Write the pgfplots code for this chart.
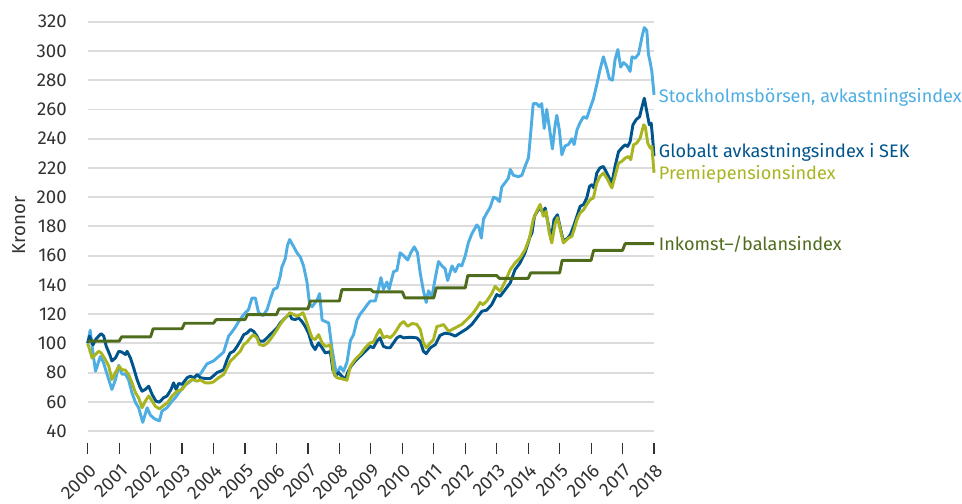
\documentclass[border=0pt]{standalone}
\usepackage{fontspec}
\setmainfont{Fira Sans}
\usepackage{pgfplots}
\usetikzlibrary{calc}
\pgfplotsset{compat=1.18}
\definecolor{cLight}{RGB}{78,173,226}
\definecolor{cDark}{RGB}{0,84,140}
\definecolor{cOlive}{RGB}{168,180,32}
\definecolor{cGreen}{RGB}{78,108,28}
\definecolor{cGrid}{RGB}{220,220,220}
\definecolor{cText}{RGB}{50,50,50}
\begin{document}
\fontsize{14}{16.8}\selectfont
\begin{tikzpicture}
\begin{axis}[
  name=ax,
  scale only axis,
  width=425pt, height=316pt,
  xmin=2000, xmax=2018, ymin=32, ymax=320,
  xtick={2000,2001,...,2018},
  ytick={40,60,...,320},
  xticklabel={\pgfmathprintnumber[precision=0,1000 sep={}]{\tick}},
  /pgf/number format/assume math mode=true,
  axis line style={draw=none},
  ymajorgrids, grid style={cGrid, line width=1.4pt},
  major tick length=0.1pt,
  xtick style={draw=none},
  ytick style={draw=none},
  xtick pos=bottom,
  ytick pos=left,
  tick label style={font=\fontsize{14}{16.8}\selectfont, text=cText, inner sep=0pt},
  yticklabel style={anchor=east, xshift=-15.5pt},
  xticklabel style={rotate=45, anchor=east, xshift=-10.3pt, yshift=-15.9pt},
  clip=false,
  every axis plot/.append style={line width=2.2pt, line join=round, mark=none},
]
\addplot[cLight] coordinates {
(2000.00,100) (2000.08,109) (2000.17,93) (2000.25,81) (2000.40,91) (2000.50,87) (2000.63,78) (2000.77,68.5) (2000.88,75) (2000.99,85) (2001.09,79) (2001.20,79) (2001.30,75) (2001.41,66) (2001.52,59.5) (2001.62,56) (2001.75,46) (2001.89,56) (2001.99,51) (2002.12,48.5) (2002.28,47) (2002.36,53.7) (2002.52,56) (2002.68,60.5) (2002.79,63) (2002.89,66) (2003.05,70.7) (2003.26,74) (2003.42,77) (2003.58,79) (2003.79,86) (2004.00,88) (2004.16,91) (2004.32,94) (2004.48,105) (2004.59,108) (2004.69,111) (2004.80,115) (2004.90,118) (2005.01,121) (2005.11,123) (2005.22,131) (2005.33,131) (2005.43,121) (2005.57,119) (2005.70,123) (2005.80,130) (2005.91,137) (2006.02,138) (2006.12,146) (2006.17,152) (2006.28,158) (2006.35,167) (2006.42,171) (2006.55,166) (2006.65,162) (2006.76,159) (2006.86,153) (2006.97,142) (2007.05,127) (2007.13,125) (2007.23,128) (2007.30,130) (2007.37,134) (2007.45,116) (2007.55,115) (2007.66,114) (2007.76,97) (2007.87,83) (2007.94,80) (2008.03,84) (2008.13,81) (2008.24,87) (2008.35,102) (2008.45,106) (2008.56,116) (2008.66,120) (2008.77,123) (2008.87,126) (2008.98,129) (2009.14,129) (2009.24,137) (2009.32,145) (2009.40,137) (2009.51,142) (2009.58,137) (2009.72,149) (2009.83,150) (2009.93,162) (2010.04,160) (2010.17,157) (2010.27,162) (2010.38,166) (2010.48,162) (2010.57,148) (2010.67,136) (2010.76,128) (2010.83,136) (2010.94,132) (2011.05,145) (2011.15,156) (2011.26,153) (2011.36,151) (2011.44,143) (2011.58,153) (2011.68,149) (2011.79,154) (2011.89,153) (2012.00,160) (2012.10,169) (2012.21,175) (2012.37,181) (2012.44,179) (2012.51,172) (2012.58,185) (2012.68,189) (2012.79,193) (2012.90,200) (2013.00,199) (2013.09,197) (2013.16,207) (2013.27,210) (2013.37,213) (2013.43,219) (2013.53,215) (2013.69,214) (2013.80,215) (2013.90,221) (2014.01,227) (2014.08,244) (2014.16,264) (2014.27,264) (2014.35,262) (2014.43,264) (2014.51,247) (2014.59,260) (2014.67,248) (2014.77,233) (2014.86,250) (2014.91,256) (2014.99,246) (2015.07,229) (2015.17,235) (2015.28,236) (2015.39,240) (2015.46,236) (2015.55,246) (2015.65,251) (2015.76,255) (2015.86,254) (2015.97,261) (2016.07,267) (2016.18,277) (2016.28,287) (2016.39,296) (2016.50,288) (2016.58,281) (2016.68,280) (2016.76,294) (2016.85,301) (2016.94,289) (2017.03,292) (2017.14,290) (2017.24,286) (2017.30,296) (2017.40,295) (2017.51,298) (2017.62,310) (2017.69,316) (2017.77,314) (2017.82,298) (2017.88,292) (2017.93,286) (2018.00,270)
};
\addplot[cDark] coordinates {
(2000.00,100) (2000.06,105) (2000.17,99) (2000.25,102.6) (2000.35,105) (2000.43,106.7) (2000.51,105) (2000.59,98) (2000.70,92.4) (2000.77,88) (2000.88,90) (2000.99,94.6) (2001.09,94) (2001.20,92.4) (2001.25,94.6) (2001.36,90) (2001.46,83.3) (2001.57,75.3) (2001.65,70.7) (2001.73,67.3) (2001.83,68.5) (2001.94,70.7) (2002.05,65) (2002.17,60.5) (2002.28,59.8) (2002.41,62.8) (2002.52,64) (2002.65,68.5) (2002.73,73) (2002.81,68.5) (2002.89,72.6) (2003.00,72) (2003.16,76.5) (2003.26,77.6) (2003.37,76.5) (2003.48,78.7) (2003.58,76.5) (2003.74,76) (2003.90,76) (2004.11,80) (2004.22,81) (2004.32,82) (2004.43,89) (2004.53,93.5) (2004.64,94.6) (2004.75,98) (2004.85,101.5) (2004.96,106) (2005.06,107) (2005.17,109.5) (2005.27,108.3) (2005.38,105) (2005.46,101.5) (2005.59,101.5) (2005.70,103.8) (2005.80,106) (2005.91,108.3) (2006.02,110.6) (2006.12,114) (2006.23,116.3) (2006.34,118.6) (2006.42,119.7) (2006.49,116.8) (2006.60,116.3) (2006.70,117.5) (2006.81,115) (2006.91,111.7) (2007.02,107) (2007.13,99) (2007.23,95.8) (2007.34,100.4) (2007.45,97) (2007.55,93.5) (2007.66,94) (2007.71,94.6) (2007.79,82) (2007.87,77.6) (2007.97,80) (2008.08,77.6) (2008.19,75.3) (2008.26,80) (2008.37,84.4) (2008.50,87.8) (2008.66,91.2) (2008.82,94.6) (2008.98,98) (2009.08,97) (2009.19,101.5) (2009.29,103.8) (2009.40,98) (2009.51,97) (2009.61,97) (2009.72,100.4) (2009.83,103.8) (2009.93,105) (2010.04,103.8) (2010.25,104.2) (2010.46,103.8) (2010.57,101.5) (2010.67,94.6) (2010.76,93) (2010.89,97) (2011.05,99.2) (2011.20,105.5) (2011.36,107) (2011.52,106.5) (2011.68,105) (2011.84,107.2) (2012.05,110) (2012.21,113) (2012.37,117.5) (2012.53,122) (2012.68,122.7) (2012.84,126.5) (2013.00,133.4) (2013.11,132.2) (2013.27,136.8) (2013.43,141.4) (2013.58,150.4) (2013.74,155) (2013.90,162) (2014.06,173) (2014.12,175.5) (2014.20,187) (2014.30,190.8) (2014.38,192.6) (2014.47,189.2) (2014.54,192.6) (2014.65,180) (2014.73,171) (2014.82,184.6) (2014.93,188) (2015.01,180) (2015.12,169.8) (2015.25,172) (2015.34,174.3) (2015.44,180) (2015.55,187) (2015.65,193.7) (2015.76,195) (2015.86,199.4) (2015.95,207.4) (2016.02,208.5) (2016.09,206.3) (2016.18,216.5) (2016.28,220) (2016.39,221) (2016.50,216.5) (2016.66,209.7) (2016.76,221) (2016.87,231) (2016.97,233.6) (2017.08,235.8) (2017.16,234.7) (2017.24,238) (2017.33,249.5) (2017.43,253) (2017.54,255) (2017.62,262) (2017.69,267.7) (2017.77,258.6) (2017.85,249.5) (2017.91,250.6) (2017.96,239) (2018.00,228)
};
\addplot[cOlive] coordinates {
(2000.00,100) (2000.06,95.8) (2000.14,90) (2000.25,92.4) (2000.35,94.6) (2000.43,93.5) (2000.56,89) (2000.67,84.4) (2000.77,75.3) (2000.88,80) (2000.99,84.4) (2001.09,82) (2001.20,81.7) (2001.30,78.7) (2001.41,73) (2001.52,66.2) (2001.62,62.8) (2001.73,56) (2001.83,60.5) (2001.94,64) (2002.05,60.5) (2002.15,57) (2002.28,55.3) (2002.41,57.6) (2002.54,59.4) (2002.68,64) (2002.84,67.3) (2003.00,68.5) (2003.16,73) (2003.32,75.3) (2003.48,74.2) (2003.58,75) (2003.74,73) (2003.90,73) (2004.00,73.7) (2004.16,76.5) (2004.32,78.7) (2004.43,83.3) (2004.53,87.8) (2004.64,90) (2004.75,92.4) (2004.85,94.6) (2004.96,99.2) (2005.06,100.8) (2005.17,103.8) (2005.27,106) (2005.38,103.8) (2005.46,99.2) (2005.59,98.5) (2005.70,100) (2005.80,102.6) (2005.91,106) (2006.02,109.5) (2006.12,113) (2006.23,116.3) (2006.34,118.6) (2006.42,121) (2006.55,119.7) (2006.65,118.6) (2006.76,119.7) (2006.84,121) (2006.91,117.5) (2007.02,110.6) (2007.13,103.8) (2007.23,102.6) (2007.34,106) (2007.45,100.4) (2007.55,98) (2007.66,98.5) (2007.71,99.2) (2007.82,80) (2007.92,76.5) (2008.08,75.8) (2008.24,74.8) (2008.35,84.4) (2008.50,89) (2008.66,92.4) (2008.82,97) (2008.98,100.4) (2009.08,100.8) (2009.19,106) (2009.29,109.5) (2009.40,103.8) (2009.51,105) (2009.61,103.8) (2009.72,106) (2009.83,109.5) (2009.93,113) (2010.04,115) (2010.17,111.7) (2010.31,113.6) (2010.46,113) (2010.57,109.5) (2010.67,100.4) (2010.76,97) (2010.89,100.4) (2010.99,102.6) (2011.10,111.7) (2011.20,112) (2011.31,112.9) (2011.47,108.3) (2011.68,110.6) (2011.89,113) (2012.05,116.3) (2012.21,119.7) (2012.37,124.3) (2012.47,128) (2012.56,126.5) (2012.68,128.8) (2012.84,134) (2012.95,139) (2013.11,135.6) (2013.27,142.5) (2013.43,150.4) (2013.58,155) (2013.74,158.4) (2013.90,164) (2014.04,172) (2014.16,184.6) (2014.27,190.3) (2014.38,195) (2014.48,187) (2014.57,190.3) (2014.67,175.5) (2014.75,168.7) (2014.86,182.3) (2014.93,186) (2015.01,179) (2015.12,168.7) (2015.28,172) (2015.39,173.2) (2015.46,177.8) (2015.55,184.6) (2015.65,189.2) (2015.76,191.4) (2015.86,195) (2015.97,198.3) (2016.07,199.4) (2016.18,209.7) (2016.28,214.2) (2016.39,216.5) (2016.50,213) (2016.66,206.3) (2016.76,214.2) (2016.87,223.3) (2016.97,224.4) (2017.08,226.7) (2017.19,227.8) (2017.26,225.6) (2017.35,235.8) (2017.45,237) (2017.56,240.4) (2017.67,249.5) (2017.72,248.3) (2017.80,237) (2017.88,233.6) (2017.93,234.7) (2018.00,216.7)
};
\addplot[cGreen] coordinates {
(2000,101.5) (2001.0,101.5) (2001.08,104.5) (2002.0,104.5) (2002.08,110) (2003.0,110) (2003.08,113.8) (2004.0,113.8) (2004.08,116.3) (2005.0,116.3) (2005.08,119.7) (2006.0,119.7) (2006.08,123.6) (2007.0,123.6) (2007.08,129) (2008.0,129) (2008.08,136.8) (2009.0,136.8) (2009.08,135.2) (2010.0,135.2) (2010.08,131.1) (2011.0,131.1) (2011.08,138) (2012.0,138) (2012.08,146.4) (2013.0,146.4) (2013.08,144.5) (2014.0,144.5) (2014.08,148.2) (2015.0,148.2) (2015.08,156.8) (2016.0,156.8) (2016.08,163.6) (2017.0,163.6) (2017.08,168.2) (2018,168.2)
};
\node[anchor=base west, text=cLight, inner sep=0pt, xshift=3.5pt, font=\fontsize{13.6}{16}\selectfont] at (axis cs:2018,265) {Stockholmsbörsen, avkastningsindex};
\node[anchor=base west, text=cDark, inner sep=0pt, xshift=3.5pt, font=\fontsize{13.6}{16}\selectfont] at (axis cs:2018,227.4) {Globalt avkastningsindex i SEK};
\node[anchor=base west, text=cOlive, inner sep=0pt, xshift=3.5pt, font=\fontsize{13.6}{16}\selectfont] at (axis cs:2018,211.9) {Premiepensionsindex};
\node[anchor=base west, text=cGreen, inner sep=0pt, xshift=3.5pt, font=\fontsize{13.6}{16}\selectfont] at (axis cs:2018,163.6) {Inkomst–/balansindex};
\end{axis}
\foreach \i in {0,...,18} {
  \draw[cText, line width=0.9pt] ($(ax.south west)!\i/18!(ax.south east)$) -- ++(0,-8.7pt);
}
\path ($(ax.south west)!0.516!(ax.north west)$) ++(-47pt,0) node[rotate=90, anchor=base, inner sep=0pt, text=cText] {Kronor};
\pgfresetboundingbox
\path[use as bounding box] ($(ax.south west)+(-65.8pt,-45.25pt)$) rectangle ($(ax.north east)+(231.1pt,16.3pt)$);
\end{tikzpicture}
\end{document}
